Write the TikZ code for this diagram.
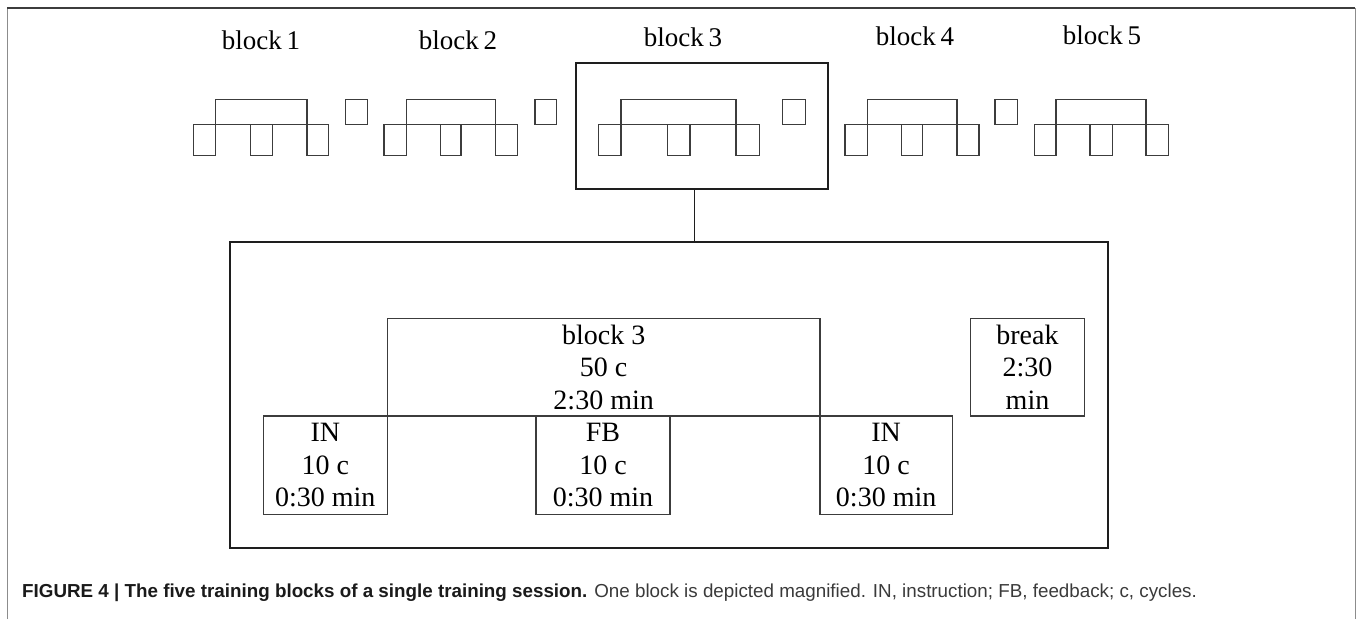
\documentclass[tikz,border=0pt]{standalone}
\usepackage{fontspec}
\setmainfont{Liberation Serif}
\newfontfamily\capfont{Liberation Sans}
\definecolor{ln}{HTML}{3C3C3C}
\definecolor{thick}{HTML}{1E1E1E}
\definecolor{capbold}{HTML}{1A1A1A}
\definecolor{capreg}{HTML}{3A3A3A}
\newcommand\miniblk[6]{%
  \draw[mini] (#1,124.5) rectangle (#2,155.7);
  \draw[mini] (#3,124.5) rectangle (#4,155.7);
  \draw[mini] (#5,124.5) rectangle (#6,155.7);
  \draw[mini] (#2,124.5) -- (#5,124.5);
  \draw[mini] (#2,124.5) -- (#2,99.7) -- (#5,99.7) -- (#5,124.5);
}
\begin{document}
\begin{tikzpicture}[x=1pt,y=-1pt,
  mini/.style={draw=ln,line width=1.3pt},
  toplabel/.style={anchor=base,inner sep=0pt,font=\fontsize{27}{30}\selectfont},
  bigbox/.style={draw=thick,line width=2pt,inner sep=0pt},
  tbox/.style={draw=ln,line width=1.3pt,inner sep=0pt,align=center,font=\fontsize{28}{32.5}\selectfont}]
\useasboundingbox (0,0) rectangle (1357,619);
% frame
\draw[draw=gray!90,line width=1.6pt] (7.3,619) -- (7.3,8);
\draw[draw=gray!90,line width=1.6pt] (1355.3,619) -- (1355.3,8);
\draw[draw=ln,line width=1.6pt] (7.3,8) -- (1355.3,8);
% top labels
\node[toplabel] (l1) at (261,49.3) {block\hspace{-2pt} 1};
\node[toplabel] (l2) at (458,49.3) {block\hspace{-2pt} 2};
\node[toplabel] (l3) at (683,46.7) {block\hspace{-2pt} 3};
\node[toplabel] (l4) at (915,45) {block\hspace{-2pt} 4};
\node[toplabel] (l5) at (1102,44) {block\hspace{-2pt} 5};
% mini blocks
\miniblk{193.3}{215.7}{250.7}{272.7}{307}{328.3}
\miniblk{384}{406.7}{440.3}{461}{495.7}{517.7}
\miniblk{598.3}{621}{667.7}{690}{736}{759.3}
\miniblk{845}{867.3}{901.7}{922.3}{957}{979}
\miniblk{1034.3}{1056}{1090}{1112.3}{1146}{1168.3}
% breaks
\draw[mini] (345.7,99.7) rectangle (367.7,124.5);
\draw[mini] (535,99.7) rectangle (556.7,124.5);
\draw[mini] (782.7,99.7) rectangle (805.7,124.5);
\draw[mini] (995,99.7) rectangle (1017.3,124.5);
% block 3 magnifier
\node[bigbox,minimum width=252.6pt,minimum height=126.3pt] (b3) at (702,125.85) {};
\node[bigbox,minimum width=877.7pt,minimum height=306.6pt] (big) at (668.85,395) {};
\coordinate (conn) at (694.3,0);
\draw[draw=thick,line width=1.6pt] (b3.south -| conn) -- (big.north -| conn);
% inner
\node[tbox,minimum width=432.7pt,minimum height=97.7pt] (top) at (603.65,367.15) {block 3\\50 c\\2:30 min};
\node[tbox,minimum width=124pt,minimum height=98.3pt] (in1) at (325.3,465.15) {IN\\10 c\\0:30 min};
\node[tbox,minimum width=134pt,minimum height=98.3pt] (fb) at (603,465.15) {FB\\10 c\\0:30 min};
\node[tbox,minimum width=132.3pt,minimum height=98.3pt] (in2) at (886.15,465.15) {IN\\10 c\\0:30 min};
\node[tbox,minimum width=113.6pt,minimum height=97.7pt] (brk) at (1027.5,367.15) {break\\2:30\\min};
% caption
\node[anchor=base west,inner sep=0pt] (cap) at (22,597) {\capfont\fontsize{18.8}{21}\selectfont\textcolor{capbold}{\textbf{FIGURE 4 | The five training blocks of a single training session.}} \textcolor{capreg}{One block is depicted magnified. IN, instruction; FB, feedback; c, cycles.}};
\end{tikzpicture}
\end{document}
